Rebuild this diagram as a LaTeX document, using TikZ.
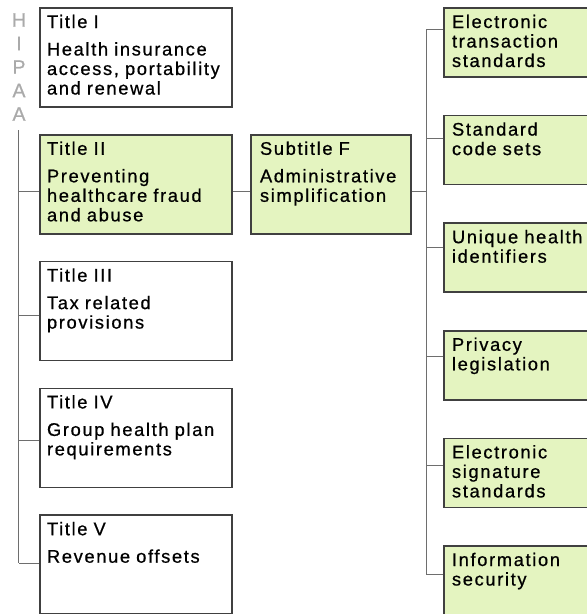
\documentclass[tikz,border=0pt]{standalone}
\usepackage{fontspec}
\setmainfont{Liberation Sans}[LetterSpace=9, FakeBold=0.7]
\usetikzlibrary{positioning}

\definecolor{hipagreen}{RGB}{228,244,192}
\definecolor{linkgray}{RGB}{110,110,110}
\definecolor{lettergray}{RGB}{170,170,170}

\begin{document}
\begin{tikzpicture}[x=1pt, y=-1pt, node distance=126.8pt,
    titlebox/.style = {rectangle, draw=black!75, line width=1.6pt, fill=white, text width=178pt, inner xsep=7pt, inner ysep=7pt, text height=13pt, text depth=72pt, align=left, font=\fontsize{18.3}{19.5}\selectfont},
    subbox/.style = {titlebox, fill=hipagreen, text width=142pt, inner xsep=9pt},
    rulebox/.style = {titlebox, fill=hipagreen, node distance=107.6pt, text width=160pt, inner xsep=8pt, text depth=42pt},
    part/.style = {fill=hipagreen},
    link/.style = {draw=linkgray, line width=1pt}
]
\useasboundingbox (0,0) rectangle (587,614);

% Nodes
\node (hipa) [text=lettergray, font=\fontsize{19.5}{23.5}\selectfont, align=center, inner sep=0pt] at (19,67) {H\\I\\P\\A\\A};

\node (t1) [titlebox] at (136,57.5) {Title I\\[8pt]Health insurance\\access,~portability\\and renewal};
\node (t2) [titlebox, part, below of=t1] {Title II\\[8pt]Preventing\\healthcare fraud\\and abuse};
\node (t3) [titlebox, below of=t2] {Title III\\[8pt]Tax related\\provisions};
\node (t4) [titlebox, below of=t3] {Title IV\\[8pt]Group~health~plan\\requirements};
\node (t5) [titlebox, below of=t4] {Title V\\[8pt]Revenue offsets};

\node (sub) [subbox, node distance=195pt, right of=t2] {Subtitle F\\[8pt]Administrative\\simplification};

\node (s1) [rulebox] at (532,42.5) {Electronic\\transaction\\standards};
\node (s2) [rulebox, below of=s1] {Standard\\code sets};
\node (s3) [rulebox, below of=s2] {Unique health\\identifiers};
\node (s4) [rulebox, below of=s3] {Privacy\\legislation};
\node (s5) [rulebox, below of=s4] {Electronic\\signature\\standards};
\node (s6) [rulebox, below of=s5] {Information\\security};

% Edges
\coordinate (lbus) at (18.5,130);
\foreach \i/\dy in {2/-7,3/-4.5,4/-2.5,5/1.5} {
    \coordinate (lt\i) at ([yshift=\dy pt]t\i.west);
    \draw [link] (lt\i) -- (lt\i -| lbus);
}
\draw [link] (lbus) -- (lt5 -| lbus);
\draw [link] (lt2 -| t2.east) -- (lt2 -| sub.west);

\coordinate (rbus) at (426,0);
\draw [link] (lt2 -| sub.east) -- (lt2 -| rbus);
\foreach \i in {1,...,6} {
    \coordinate (rt\i) at ([yshift={14pt-1.4pt*\i}]s\i.west);
    \draw [link] (rt\i) -- (rt\i -| rbus);
}
\draw [link] (rt1 -| rbus) -- (rt6 -| rbus);

\end{tikzpicture}
\end{document}
